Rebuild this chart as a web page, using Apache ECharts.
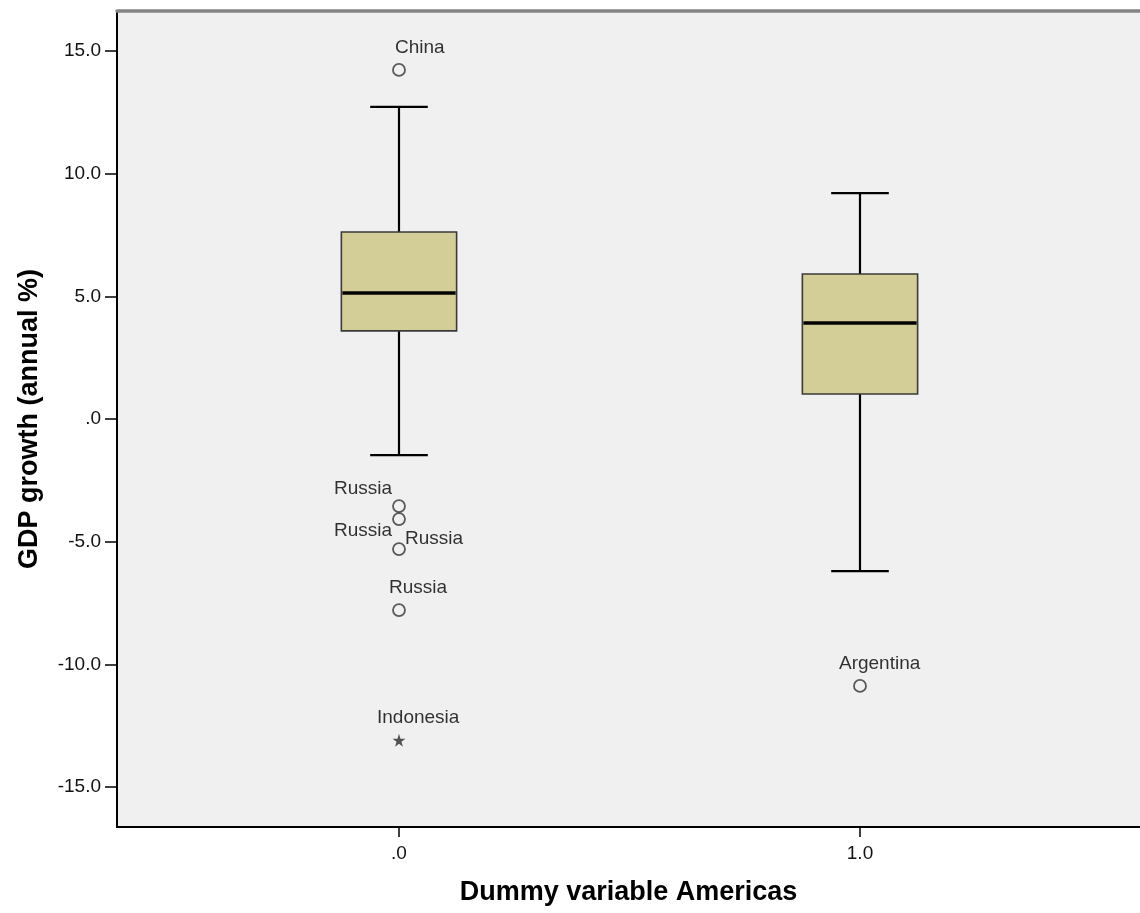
<!DOCTYPE html>
<html>
<head>
<meta charset="utf-8">
<script src="https://cdn.jsdelivr.net/npm/echarts@6/dist/echarts.min.js"></script>
<style>
  html, body { margin: 0; padding: 0; background: #ffffff; }
  #chart { width: 1140px; height: 913px; }
</style>
</head>
<body>
<div id="chart"></div>
<script>
// Groups of the dummy variable and their tick labels
const groups = [0, 1];
const groupLabels = ['.0', '1.0'];

// Five-number summaries per group: [lower whisker, Q1, median, Q3, upper whisker]
const boxLow    = [-1.47, -6.20];
const boxQ1     = [3.59, 1.02];
const boxMedian = [5.14, 3.91];
const boxQ3     = [7.62, 5.91];
const boxHigh   = [12.72, 9.21];

// Outlying observations
const outlierGroup   = [0, 0, 0, 0, 0, 0, 1];
const outlierValues  = [14.23, -3.55, -4.08, -5.30, -7.79, -13.09, -10.88];
const outlierNames   = ['China', 'Russia', 'Russia', 'Russia', 'Russia', 'Indonesia', 'Argentina'];
const outlierExtreme = [false, false, false, false, false, true, false];

// Y-axis tick values
const yTicks = [-15, -10, -5, 0, 5, 10, 15];

// Label placement for each outlier (text anchor relative to the marker centre)
const labelPlacement = [
  { align: 'left',  dx: -4,  dy: -22 },
  { align: 'right', dx: -7,  dy: -17 },
  { align: 'right', dx: -7,  dy: 12 },
  { align: 'left',  dx: 6,   dy: -10 },
  { align: 'left',  dx: -10, dy: -22 },
  { align: 'left',  dx: -22, dy: -22 },
  { align: 'left',  dx: -21, dy: -22 }
];

const BOX_WIDTH = 0.25;
const FONT = '"Liberation Sans", Arial, sans-serif';
const STAR = 'path://M50,0 L61,35 L98,35 L68,57 L79,91 L50,70 L21,91 L32,57 L2,35 L39,35 Z';

const boxData = groups.map((g, i) => [g, boxLow[i], boxQ1[i], boxMedian[i], boxQ3[i], boxHigh[i]]);

const outlierData = outlierValues.map((v, i) => {
  const p = labelPlacement[i];
  return {
    value: [groups[outlierGroup[i]], v],
    name: outlierNames[i],
    symbol: outlierExtreme[i] ? STAR : 'circle',
    symbolSize: outlierExtreme[i] ? 13 : 12,
    itemStyle: outlierExtreme[i]
      ? { color: '#2a2a2a', borderWidth: 0 }
      : { color: '#f0f0f0', borderColor: '#333333', borderWidth: 1.8 },
    label: {
      show: true,
      position: 'inside',
      offset: [p.dx, p.dy],
      align: p.align,
      verticalAlign: 'middle',
      formatter: '{b}',
      color: '#000000',
      fontFamily: FONT,
      fontSize: 19,
      textBorderWidth: 0
    }
  };
});

const chart = echarts.init(document.getElementById('chart'), null, { renderer: 'canvas' });

chart.setOption({
  backgroundColor: '#ffffff',
  animation: false,
  grid: {
    left: 117, right: 0, top: 11, bottom: 86,
    show: true, backgroundColor: '#f0f0f0', borderWidth: 0
  },
  xAxis: [
    {
      type: 'value',
      min: -0.6117,
      max: 1.6074,
      position: 'bottom',
      name: 'Dummy variable Americas',
      nameLocation: 'middle',
      nameGap: 52,
      nameTextStyle: { fontFamily: FONT, fontSize: 27, fontWeight: 'bold', color: '#000' },
      axisLine: { show: true, onZero: false, lineStyle: { color: '#000', width: 2 } },
      axisTick: { show: true, customValues: groups, length: 10, lineStyle: { color: '#000', width: 1.5 } },
      axisLabel: {
        customValues: groups,
        margin: 17,
        fontFamily: FONT, fontSize: 19, color: '#111',
        formatter: v => groupLabels[groups.indexOf(Math.round(v))] ?? ''
      },
      splitLine: { show: false }
    },
    {
      type: 'value',
      min: -0.6117,
      max: 1.6074,
      position: 'top',
      axisLine: { show: true, onZero: false, lineStyle: { color: '#858585', width: 3.5 } },
      axisTick: { show: false },
      axisLabel: { show: false },
      splitLine: { show: false }
    }
  ],
  yAxis: {
    type: 'value',
    min: -16.63,
    max: 16.63,
    name: 'GDP growth (annual %)',
    nameLocation: 'middle',
    nameGap: 74,
    nameTextStyle: { fontFamily: FONT, fontSize: 27, fontWeight: 'bold', color: '#000' },
    axisLine: { show: true, onZero: false, lineStyle: { color: '#000', width: 2 } },
    axisTick: { show: true, customValues: yTicks, length: 12, lineStyle: { color: '#000', width: 1.5 } },
    axisLabel: {
      customValues: yTicks,
      margin: 16,
      fontFamily: FONT, fontSize: 19, color: '#111',
      formatter: v => (v === 0 ? '.0' : v.toFixed(1))
    },
    splitLine: { show: false }
  },
  series: [
    {
      type: 'custom',
      name: 'box',
      xAxisIndex: 0,
      data: boxData,
      encode: { x: 0, y: [1, 2, 3, 4, 5] },
      renderItem(params, api) {
        const x = api.value(0);
        const lo = api.coord([x, api.value(1)]);
        const q1 = api.coord([x, api.value(2)]);
        const md = api.coord([x, api.value(3)]);
        const q3 = api.coord([x, api.value(4)]);
        const hi = api.coord([x, api.value(5)]);
        const w = api.size([BOX_WIDTH, 0])[0];
        const cx = lo[0];
        const cap = w / 4;
        const whisker = { stroke: '#000', lineWidth: 2.2 };
        return {
          type: 'group',
          children: [
            { type: 'line', shape: { x1: cx, y1: hi[1], x2: cx, y2: q3[1] }, style: whisker },
            { type: 'line', shape: { x1: cx, y1: q1[1], x2: cx, y2: lo[1] }, style: whisker },
            { type: 'line', shape: { x1: cx - cap, y1: hi[1], x2: cx + cap, y2: hi[1] }, style: whisker },
            { type: 'line', shape: { x1: cx - cap, y1: lo[1], x2: cx + cap, y2: lo[1] }, style: whisker },
            {
              type: 'rect',
              shape: { x: cx - w / 2, y: q3[1], width: w, height: q1[1] - q3[1] },
              style: { fill: '#d3ce97', stroke: '#3a3a3a', lineWidth: 1.6 }
            },
            {
              type: 'line',
              shape: { x1: cx - w / 2 + 1, y1: md[1], x2: cx + w / 2 - 1, y2: md[1] },
              style: { stroke: '#000', lineWidth: 3.5 }
            }
          ]
        };
      },
      z: 2
    },
    {
      type: 'scatter',
      name: 'outliers',
      xAxisIndex: 0,
      data: outlierData,
      z: 3
    }
  ]
});
</script>
</body>
</html>
